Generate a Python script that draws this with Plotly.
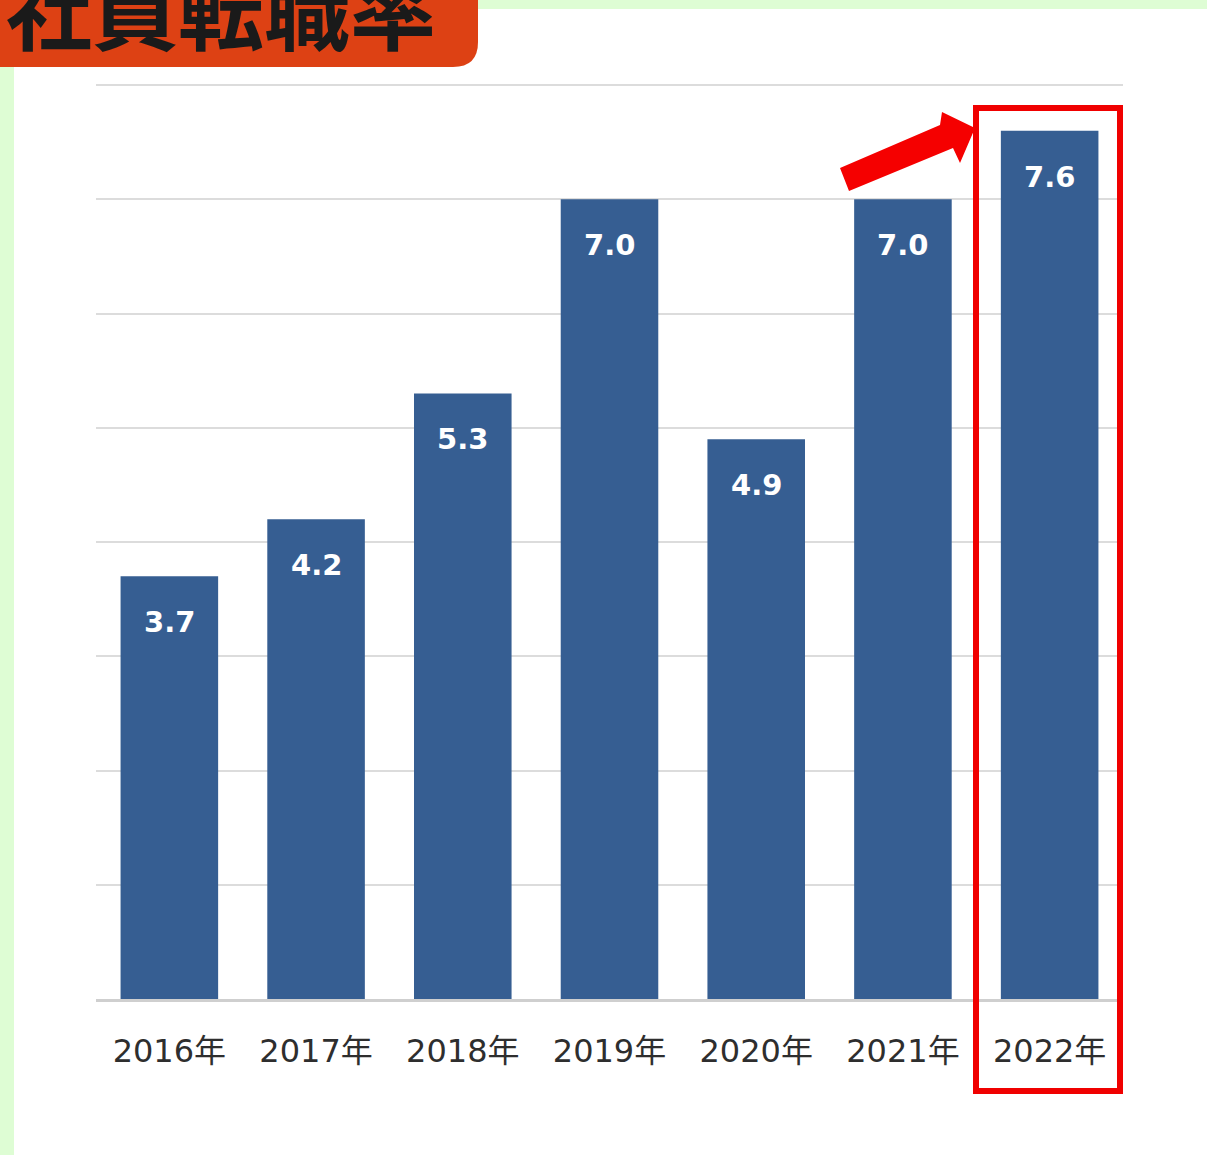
import plotly.graph_objects as go

years = ["2016年", "2017年", "2018年", "2019年", "2020年", "2021年", "2022年"]
rates = [3.7, 4.2, 5.3, 7.0, 4.9, 7.0, 7.6]
value_labels = ["3.7", "4.2", "5.3", "7.0", "4.9", "7.0", "7.6"]
title_text = "社員転職率"

W, H = 1207, 1155
L, R, T, B = 96, 1123, 83, 999
Y_TOP = 8.0175


def X(px):
    return (px - L) / (R - L)


def Y(py):
    return (B - py) / (B - T)


fig = go.Figure()
fig.add_trace(go.Bar(
    x=years, y=rates,
    marker=dict(color="#365e92", line=dict(width=0)),
    width=0.665,
    hoverinfo="x+y",
))

for yr, v, lab in zip(years, rates, value_labels):
    fig.add_annotation(
        x=yr, y=v, xref="x", yref="y", text=lab, showarrow=False,
        yanchor="middle", yshift=-46,
        font=dict(family="DejaVu Sans", size=29, color="white", weight="bold"),
    )

shapes = []
# white page area
shapes.append(dict(type="rect", xref="paper", yref="paper", layer="below",
                   x0=X(14), x1=X(W + 5), y0=Y(9), y1=Y(H + 5),
                   fillcolor="white", line=dict(width=0)))
# title box with rounded bottom-right corner
p = (f"M {X(-5)},{Y(-5)} L {X(478)},{Y(-5)} L {X(478)},{Y(42)} "
     f"Q {X(478)},{Y(67)} {X(453)},{Y(67)} L {X(-5)},{Y(67)} Z")
shapes.append(dict(type="path", xref="paper", yref="paper", layer="above",
                   path=p, fillcolor="#dd4114", line=dict(width=0)))
# red highlight frame
shapes.append(dict(type="rect", xref="paper", yref="paper", layer="above",
                   x0=X(976), x1=X(1120), y0=Y(108), y1=Y(1091),
                   fillcolor="rgba(0,0,0,0)", line=dict(color="#f00000", width=6)))
# red arrow
pts = [(840, 168), (940, 125), (942, 112), (975, 128), (960, 163), (953, 148), (849, 191)]
ap = "M " + " L ".join(f"{X(a)},{Y(b)}" for a, b in pts) + " Z"
shapes.append(dict(type="path", xref="paper", yref="paper", layer="above",
                   path=ap, fillcolor="#f50000", line=dict(width=0)))

fig.add_annotation(
    x=X(4), y=Y(7), xref="paper", yref="paper", xanchor="left", yanchor="middle",
    text=title_text, showarrow=False,
    font=dict(family="Noto Sans CJK JP", size=86, color="#1a1a1a", weight="bold"),
)

fig.update_layout(
    width=W, height=H,
    margin=dict(l=L, r=W - R, t=T, b=H - B, pad=0),
    paper_bgcolor="#defdd4",
    plot_bgcolor="white",
    shapes=shapes,
    showlegend=False,
    bargap=0.335,
    xaxis=dict(
        showgrid=False, showline=True, linecolor="#cfcfcf", linewidth=3,
        ticks="", ticklabelstandoff=22,
        tickfont=dict(family="DejaVu Sans, Noto Sans CJK JP", size=32, color="#2e2e2e"),
        fixedrange=True,
    ),
    yaxis=dict(
        range=[0, Y_TOP], tick0=0, dtick=1, showgrid=True, gridcolor="#dcdcdc", gridwidth=2,
        zeroline=False, showticklabels=False, showline=False, fixedrange=True,
    ),
)

fig.write_html(
    "out.html",
    config={"displayModeBar": False},
    post_script="document.body.style.margin='0';document.body.style.overflow='hidden';",
)
